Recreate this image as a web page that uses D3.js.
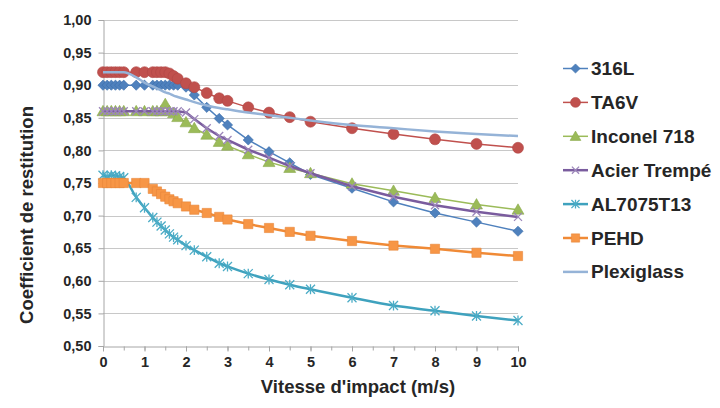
<!DOCTYPE html>
<html>
<head>
<meta charset="utf-8">
<script src="https://cdn.jsdelivr.net/npm/d3@7"></script>
<style>
  html, body { margin: 0; padding: 0; background: #ffffff; }
  svg { display: block; font-family: "Liberation Sans", Arial, sans-serif; }
</style>
</head>
<body>
<svg id="chart" width="720" height="408"></svg>
<script>
// ---------- data ----------
const velocities = [0, 0.1, 0.2, 0.3, 0.4, 0.5, 0.8, 1.0, 1.2, 1.3, 1.4, 1.5, 1.6, 1.7, 1.8, 2.0, 2.2, 2.5, 2.8, 3.0, 3.5, 4, 4.5, 5, 6, 7, 8, 9, 10];

const s316L      = [0.90,0.90,0.90,0.90,0.90,0.90,0.90,0.90,0.90,0.90,0.90,0.90,0.90,0.90,0.90,0.897,0.885,0.866,0.849,0.839,0.816,0.798,0.781,0.763,0.742,0.721,0.704,0.690,0.676];
const sTA6V      = [0.92,0.92,0.92,0.92,0.92,0.92,0.92,0.92,0.92,0.92,0.92,0.92,0.918,0.914,0.910,0.903,0.897,0.888,0.880,0.876,0.866,0.858,0.851,0.844,0.834,0.825,0.817,0.810,0.804];
const sInconel   = [0.86,0.86,0.86,0.86,0.86,0.86,0.86,0.86,0.86,0.86,0.86,0.871,0.86,0.857,0.851,0.843,0.834,0.824,0.813,0.807,0.794,0.782,0.773,0.765,0.749,0.738,0.727,0.717,0.709];
const sAcier     = [0.86,0.86,0.86,0.86,0.86,0.86,0.86,0.86,0.86,0.86,0.86,0.86,0.86,0.86,0.86,0.858,0.848,0.834,0.822,0.816,0.801,0.789,0.776,0.765,0.745,0.729,0.716,0.706,0.698];
const sAL7075    = [0.762,0.760,0.762,0.761,0.760,0.758,0.728,0.712,0.697,0.690,0.684,0.678,0.672,0.667,0.663,0.654,0.647,0.637,0.627,0.622,0.611,0.602,0.594,0.587,0.574,0.562,0.554,0.546,0.539];
const sPEHD      = [0.75,0.75,0.75,0.75,0.75,0.75,0.75,0.75,0.741,0.737,0.733,0.729,0.725,0.722,0.719,0.714,0.709,0.704,0.698,0.694,0.687,0.681,0.675,0.669,0.661,0.654,0.649,0.643,0.638];
const sPlexi     = [0.92,0.92,0.92,0.92,0.92,0.92,0.912,0.904,0.898,0.895,0.892,0.889,0.887,0.884,0.882,0.878,0.874,0.869,0.865,0.863,0.858,0.854,0.850,0.846,0.839,0.834,0.829,0.825,0.822];

const seriesNames = ["316L", "TA6V", "Inconel 718", "Acier Trempé", "AL7075T13", "PEHD", "Plexiglass"];
const seriesValues = [s316L, sTA6V, sInconel, sAcier, sAL7075, sPEHD, sPlexi];
const yTicks = [0.50, 0.55, 0.60, 0.65, 0.70, 0.75, 0.80, 0.85, 0.90, 0.95, 1.00];
const xTicks = [0, 1, 2, 3, 4, 5, 6, 7, 8, 9, 10];
const xTitle = "Vitesse d'impact (m/s)";
const yTitle = "Coefficient de restitution";

// ---------- styles ----------
const styles = [
  { color: "#4F81BD", line: "#4F81BD", width: 1.5, marker: "diamond" },
  { color: "#C0504D", line: "#C0504D", width: 1.5, marker: "circle" },
  { color: "#9BBB59", line: "#9BBB59", width: 1.5, marker: "triangle" },
  { color: "#8064A2", line: "#7A5C9E", width: 2.5, marker: "x" },
  { color: "#4BACC6", line: "#3FA2BE", width: 2.5, marker: "asterisk" },
  { color: "#F79646", line: "#F08A36", width: 2.5, marker: "square" },
  { color: "#95B3D7", line: "#95B3D7", width: 2.5, marker: "none" }
];

const svg = d3.select("#chart");
const plot = { left: 103, right: 518, top: 20, bottom: 346 };

const x = d3.scaleLinear().domain([0, 10]).range([plot.left, plot.right]);
const y = d3.scaleLinear().domain([0.5, 1.0]).range([plot.bottom, plot.top]);

// gridlines
svg.append("g").selectAll("line").data(yTicks.slice(1)).join("line")
  .attr("x1", plot.left).attr("x2", plot.right)
  .attr("y1", d => Math.round(y(d)) + 0.5).attr("y2", d => Math.round(y(d)) + 0.5)
  .attr("stroke", "#C8C8C8").attr("stroke-width", 1);

// y axis
const yAxis = d3.axisLeft(y).tickValues(yTicks).tickSize(5)
  .tickFormat(d => d3.format(".2f")(d).replace(".", ","));
const gy = svg.append("g").attr("transform", `translate(${plot.left + 0.5},0)`).call(yAxis);
gy.select(".domain").attr("stroke", "#A6A6A6");
gy.selectAll(".tick line").attr("stroke", "#A6A6A6");
gy.selectAll(".tick text").attr("x", -12)
  .style("font-family", "'Liberation Sans', Arial, sans-serif")
  .style("font-size", "14.5px").style("font-weight", "bold").attr("fill", "#262626");

// x axis (minor ticks every 0.5)
const xAxisMinor = d3.axisBottom(x).tickValues(d3.range(0, 10.01, 0.5)).tickSize(4).tickFormat("");
const gxm = svg.append("g").attr("transform", `translate(0,${plot.bottom + 0.5})`).call(xAxisMinor);
gxm.select(".domain").attr("stroke", "#A6A6A6");
gxm.selectAll(".tick line").attr("stroke", "#A6A6A6");
const xAxis = d3.axisBottom(x).tickValues(xTicks).tickSize(5).tickFormat(d => d);
const gx = svg.append("g").attr("transform", `translate(0,${plot.bottom + 0.5})`).call(xAxis);
gx.select(".domain").remove();
gx.selectAll(".tick line").attr("stroke", "#A6A6A6");
gx.selectAll(".tick text").attr("y", 10)
  .style("font-family", "'Liberation Sans', Arial, sans-serif")
  .style("font-size", "14.5px").style("font-weight", "bold").attr("fill", "#262626");

// axis titles
svg.append("text").attr("x", 358).attr("y", 393).attr("text-anchor", "middle")
  .style("font-size", "18.5px").style("font-weight", "bold").attr("fill", "#262626").text(xTitle);
svg.append("text").attr("transform", `translate(33,${(plot.top + plot.bottom) / 2 + 32}) rotate(-90)`)
  .attr("text-anchor", "middle")
  .style("font-size", "18.5px").style("font-weight", "bold").attr("fill", "#262626").text(yTitle);

// marker drawing
function drawMarker(g, type, color, cx, cy, scale = 1) {
  if (type === "diamond") {
    g.append("path").attr("d", d3.symbol(d3.symbolSquare, 52 * scale * scale)())
      .attr("transform", `translate(${cx},${cy}) rotate(45)`)
      .attr("fill", color).attr("stroke", "#3A6DAA").attr("stroke-width", 0.6);
  } else if (type === "circle") {
    g.append("path").attr("d", d3.symbol(d3.symbolCircle, 95 * scale * scale)())
      .attr("transform", `translate(${cx},${cy})`)
      .attr("fill", color).attr("stroke", "#B04744").attr("stroke-width", 0.6);
  } else if (type === "triangle") {
    g.append("path").attr("d", d3.symbol(d3.symbolTriangle, 62 * scale * scale)())
      .attr("transform", `translate(${cx},${cy + 1})`)
      .attr("fill", color).attr("stroke", "#8AAA4C").attr("stroke-width", 0.6);
  } else if (type === "square") {
    g.append("path").attr("d", d3.symbol(d3.symbolSquare, 85 * scale * scale)())
      .attr("transform", `translate(${cx},${cy})`)
      .attr("fill", color).attr("stroke", "#E8863A").attr("stroke-width", 0.6);
  } else if (type === "x") {
    const r = 4 * scale;
    g.append("path").attr("d", `M${-r},${-r}L${r},${r}M${-r},${r}L${r},${-r}`)
      .attr("transform", `translate(${cx},${cy})`)
      .attr("fill", "none").attr("stroke", "#9C86BA").attr("stroke-width", 1.3);
  } else if (type === "asterisk") {
    const r = 4.5 * scale;
    g.append("path").attr("d", `M${-r},${-r}L${r},${r}M${-r},${r}L${r},${-r}M0,${-r * 1.1}L0,${r * 1.1}`)
      .attr("transform", `translate(${cx},${cy})`)
      .attr("fill", "none").attr("stroke", "#4BACC6").attr("stroke-width", 1.3);
  }
}

// series
const line = d3.line().x(d => x(d[0])).y(d => y(d[1]));
const smooth = d3.line().x(d => x(d[0])).y(d => y(d[1])).curve(d3.curveMonotoneX);

seriesNames.forEach((name, i) => {
  const st = styles[i];
  const pts = velocities.map((v, k) => [v, seriesValues[i][k]]);
  const g = svg.append("g");
  const gen = (st.marker === "none" || st.marker === "asterisk") ? smooth : line;
  g.append("path").datum(pts).attr("d", gen)
    .attr("fill", "none").attr("stroke", st.line).attr("stroke-width", st.width)
    .attr("stroke-linejoin", "round");
  if (st.marker !== "none") {
    pts.forEach(p => drawMarker(g, st.marker, st.color, x(p[0]), y(p[1])));
  }
});

// legend
const legendY0 = 68.5, legendStep = 33.9;
seriesNames.forEach((name, i) => {
  const st = styles[i];
  const ly = legendY0 + i * legendStep;
  const g = svg.append("g");
  g.append("line").attr("x1", 563).attr("x2", 588).attr("y1", ly).attr("y2", ly)
    .attr("stroke", st.line).attr("stroke-width", st.width > 2 ? 2.5 : 1.5);
  if (st.marker !== "none") drawMarker(g, st.marker, st.color, 575.5, ly, 0.9);
  g.append("text").attr("x", 591).attr("y", ly + 6.5)
    .style("font-size", "19px").style("font-weight", "bold").attr("fill", "#262626").text(name);
});
</script>
</body>
</html>
